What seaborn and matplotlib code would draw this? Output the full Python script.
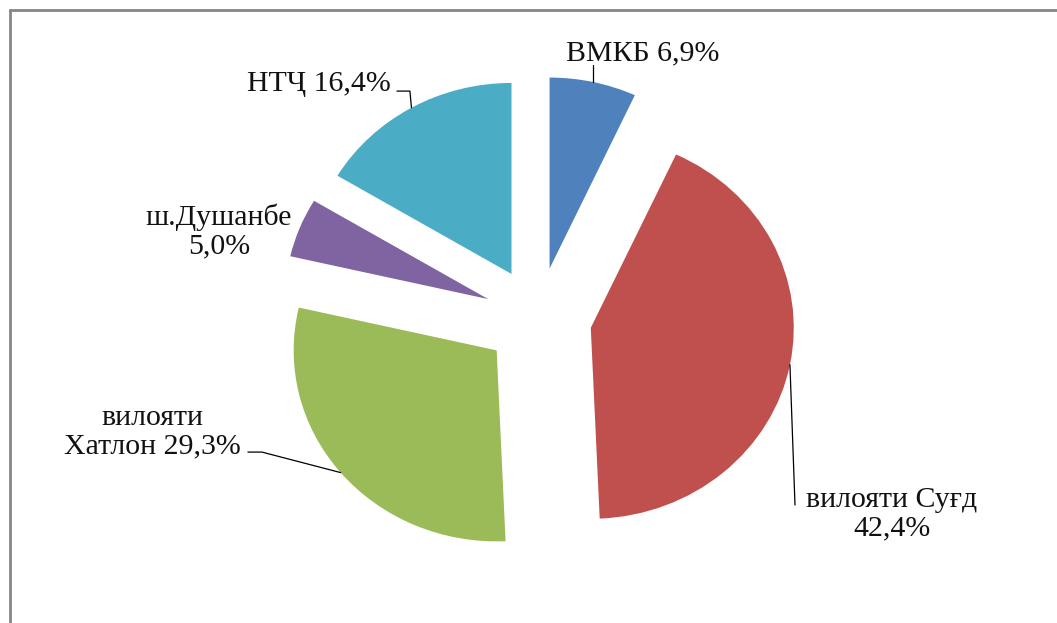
import numpy as np
import matplotlib
matplotlib.use("Agg")
import matplotlib.pyplot as plt
from matplotlib.lines import Line2D
import seaborn as sns

# data (clockwise from 12 o'clock)
regions = ["ВМКБ", "вилояти Суғд", "вилояти Хатлон", "ш.Душанбе", "НТҶ"]
shares = [6.9, 42.4, 29.3, 5.0, 16.4]
label_texts = ["ВМКБ 6,9%", "вилояти Суғд\n42,4%", "вилояти\nХатлон 29,3%",
               "ш.Душанбе\n5,0%", "НТҶ 16,4%"]
colors = ["#4F81BD", "#C0504D", "#9BBB59", "#8064A2", "#4BACC6"]

# layout: label anchor (last-line baseline, centred) and leader-line path
label_pos = [(0.517, 1.351), (1.744, -1.136), (-1.901, -0.707),
             (-1.571, 0.340), (-1.079, 1.188)]
leader_pts = [
    [(None, 1.325)],
    [(1.266, -0.979)],
    [(-1.360, -0.702), (-1.429, -0.702)],
    None,
    [(-0.631, 1.188), (-0.695, 1.188)],
]
explode_frac = 0.265

sns.set_theme(style="white")
plt.rcParams["font.family"] = ["Liberation Serif", "DejaVu Serif"]

fig = plt.figure(figsize=(10.57, 6.23), dpi=100)
ax = fig.add_axes([0, 0, 1, 1])
ax.pie(shares, colors=colors, startangle=90, counterclock=False,
       explode=[explode_frac] * len(shares),
       wedgeprops=dict(linewidth=0))
ax.set_aspect("auto")
ax.set_xlim(-538 / 203, (1057 - 538) / 203)
ax.set_ylim(-(623 - 318) / 191, 318 / 191)
ax.axis("off")

# mid angles of the wedges for the leader lines
total = sum(shares)
start = 90.0
for i, v in enumerate(shares):
    sweep = 360.0 * v / total
    mid = np.deg2rad(start - sweep / 2)
    start -= sweep
    r = 1 + explode_frac
    px, py = r * np.cos(mid), r * np.sin(mid)
    if leader_pts[i] is not None:
        xs, ys = [px], [py]
        for (lx, ly) in leader_pts[i]:
            xs.append(px if lx is None else lx)
            ys.append(ly)
        ax.plot(xs, ys, color="black", lw=0.9)
    ax.text(label_pos[i][0], label_pos[i][1], label_texts[i], ha="center",
            va="baseline", multialignment="center", fontsize=21.5,
            linespacing=1.08, color="#111111")

# chart frame (left and top edges visible)
fig.add_artist(Line2D([9.5 / 1057, 9.5 / 1057], [0, 1 - 9.5 / 623],
                      transform=fig.transFigure, color="#858585", lw=2))
fig.add_artist(Line2D([9.5 / 1057, 1], [1 - 9.5 / 623, 1 - 9.5 / 623],
                      transform=fig.transFigure, color="#858585", lw=2))

fig.savefig("out.png", dpi=100)
plt.close(fig)
